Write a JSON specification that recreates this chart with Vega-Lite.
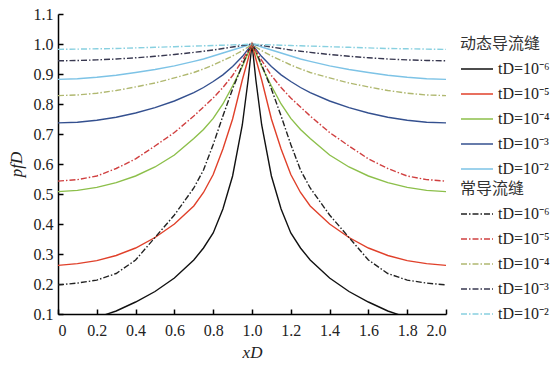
{
  "$schema": "https://vega.github.io/schema/vega-lite/v6.json",
  "width": 388,
  "height": 300,
  "autosize": {"type": "none"},
  "padding": {"left": 58, "top": 14, "right": 111, "bottom": 53},
  "background": "white",
  "config": {
    "font": "Liberation Serif",
    "view": {"stroke": null},
    "axis": {
      "grid": false,
      "domainColor": "#000",
      "domainWidth": 1.5,
      "tickColor": "#000",
      "tickWidth": 1.5,
      "tickSize": -5,
      "labelFont": "Liberation Serif",
      "labelFontSize": 16,
      "labelColor": "#222",
      "titleFont": "Liberation Serif",
      "titleFontSize": 17,
      "titleFontWeight": "normal",
      "titleFontStyle": "italic",
      "titleColor": "#222"
    },
    "legend": {
      "orient": "none",
      "titleFont": "Noto Sans CJK SC",
      "titleFontSize": 16,
      "titleFontWeight": "normal",
      "titleColor": "#333",
      "labelFont": "Liberation Serif",
      "labelFontSize": 16,
      "labelColor": "#222",
      "symbolType": "stroke",
      "symbolSize": 1024,
      "symbolStrokeWidth": 1.5,
      "rowPadding": -1.5,
      "titlePadding": 0
    }
  },
  "data": {
    "values": [
      {"x": 0, "A6": 0.05, "A5": 0.262, "A4": 0.508, "A3": 0.737, "A2": 0.882, "B6": 0.197, "B5": 0.543, "B4": 0.828, "B3": 0.944, "B2": 0.982},
      {"x": 0.1, "A6": 0.068, "A5": 0.268, "A4": 0.512, "A3": 0.739, "A2": 0.884, "B6": 0.203, "B5": 0.548, "B4": 0.83, "B3": 0.945, "B2": 0.983},
      {"x": 0.2, "A6": 0.088, "A5": 0.278, "A4": 0.522, "A3": 0.746, "A2": 0.889, "B6": 0.213, "B5": 0.56, "B4": 0.836, "B3": 0.947, "B2": 0.984},
      {"x": 0.3, "A6": 0.11, "A5": 0.295, "A4": 0.538, "A3": 0.756, "A2": 0.896, "B6": 0.235, "B5": 0.585, "B4": 0.845, "B3": 0.95, "B2": 0.985},
      {"x": 0.4, "A6": 0.14, "A5": 0.32, "A4": 0.56, "A3": 0.77, "A2": 0.905, "B6": 0.28, "B5": 0.617, "B4": 0.857, "B3": 0.954, "B2": 0.987},
      {"x": 0.5, "A6": 0.175, "A5": 0.355, "A4": 0.59, "A3": 0.788, "A2": 0.915, "B6": 0.355, "B5": 0.66, "B4": 0.87, "B3": 0.959, "B2": 0.989},
      {"x": 0.6, "A6": 0.22, "A5": 0.4, "A4": 0.63, "A3": 0.81, "A2": 0.927, "B6": 0.43, "B5": 0.705, "B4": 0.887, "B3": 0.965, "B2": 0.991},
      {"x": 0.7, "A6": 0.28, "A5": 0.46, "A4": 0.685, "A3": 0.838, "A2": 0.942, "B6": 0.52, "B5": 0.76, "B4": 0.905, "B3": 0.972, "B2": 0.993},
      {"x": 0.75, "A6": 0.32, "A5": 0.505, "A4": 0.715, "A3": 0.855, "A2": 0.95, "B6": 0.58, "B5": 0.79, "B4": 0.917, "B3": 0.976, "B2": 0.994},
      {"x": 0.8, "A6": 0.37, "A5": 0.565, "A4": 0.752, "A3": 0.875, "A2": 0.96, "B6": 0.665, "B5": 0.82, "B4": 0.93, "B3": 0.98, "B2": 0.995},
      {"x": 0.85, "A6": 0.45, "A5": 0.65, "A4": 0.8, "A3": 0.897, "A2": 0.97, "B6": 0.76, "B5": 0.855, "B4": 0.945, "B3": 0.985, "B2": 0.996},
      {"x": 0.9, "A6": 0.56, "A5": 0.75, "A4": 0.86, "A3": 0.925, "A2": 0.98, "B6": 0.85, "B5": 0.895, "B4": 0.96, "B3": 0.99, "B2": 0.997},
      {"x": 0.95, "A6": 0.73, "A5": 0.88, "A4": 0.925, "A3": 0.958, "A2": 0.99, "B6": 0.93, "B5": 0.945, "B4": 0.978, "B3": 0.995, "B2": 0.998},
      {"x": 0.98, "A6": 0.88, "A5": 0.95, "A4": 0.97, "A3": 0.983, "A2": 0.996, "B6": 0.975, "B5": 0.978, "B4": 0.99, "B3": 0.998, "B2": 0.999},
      {"x": 1.0, "A6": 1.0, "A5": 1.0, "A4": 1.0, "A3": 1.0, "A2": 1.0, "B6": 1.0, "B5": 1.0, "B4": 1.0, "B3": 1.0, "B2": 1.0},
      {"x": 1.02, "A6": 0.88, "A5": 0.95, "A4": 0.97, "A3": 0.983, "A2": 0.996, "B6": 0.975, "B5": 0.978, "B4": 0.99, "B3": 0.998, "B2": 0.999},
      {"x": 1.05, "A6": 0.73, "A5": 0.88, "A4": 0.925, "A3": 0.958, "A2": 0.99, "B6": 0.93, "B5": 0.945, "B4": 0.978, "B3": 0.995, "B2": 0.998},
      {"x": 1.1, "A6": 0.56, "A5": 0.75, "A4": 0.86, "A3": 0.925, "A2": 0.98, "B6": 0.85, "B5": 0.895, "B4": 0.96, "B3": 0.99, "B2": 0.997},
      {"x": 1.15, "A6": 0.45, "A5": 0.65, "A4": 0.8, "A3": 0.897, "A2": 0.97, "B6": 0.76, "B5": 0.855, "B4": 0.945, "B3": 0.985, "B2": 0.996},
      {"x": 1.2, "A6": 0.37, "A5": 0.565, "A4": 0.752, "A3": 0.875, "A2": 0.96, "B6": 0.665, "B5": 0.82, "B4": 0.93, "B3": 0.98, "B2": 0.995},
      {"x": 1.25, "A6": 0.32, "A5": 0.505, "A4": 0.715, "A3": 0.855, "A2": 0.95, "B6": 0.58, "B5": 0.79, "B4": 0.917, "B3": 0.976, "B2": 0.994},
      {"x": 1.3, "A6": 0.28, "A5": 0.46, "A4": 0.685, "A3": 0.838, "A2": 0.942, "B6": 0.52, "B5": 0.76, "B4": 0.905, "B3": 0.972, "B2": 0.993},
      {"x": 1.4, "A6": 0.22, "A5": 0.4, "A4": 0.63, "A3": 0.81, "A2": 0.927, "B6": 0.43, "B5": 0.705, "B4": 0.887, "B3": 0.965, "B2": 0.991},
      {"x": 1.5, "A6": 0.175, "A5": 0.355, "A4": 0.59, "A3": 0.788, "A2": 0.915, "B6": 0.355, "B5": 0.66, "B4": 0.87, "B3": 0.959, "B2": 0.989},
      {"x": 1.6, "A6": 0.14, "A5": 0.32, "A4": 0.56, "A3": 0.77, "A2": 0.905, "B6": 0.28, "B5": 0.617, "B4": 0.857, "B3": 0.954, "B2": 0.987},
      {"x": 1.7, "A6": 0.11, "A5": 0.295, "A4": 0.538, "A3": 0.756, "A2": 0.896, "B6": 0.235, "B5": 0.585, "B4": 0.845, "B3": 0.95, "B2": 0.985},
      {"x": 1.8, "A6": 0.088, "A5": 0.278, "A4": 0.522, "A3": 0.746, "A2": 0.889, "B6": 0.213, "B5": 0.56, "B4": 0.836, "B3": 0.947, "B2": 0.984},
      {"x": 1.9, "A6": 0.068, "A5": 0.268, "A4": 0.512, "A3": 0.739, "A2": 0.884, "B6": 0.203, "B5": 0.548, "B4": 0.83, "B3": 0.945, "B2": 0.983},
      {"x": 2.0, "A6": 0.05, "A5": 0.262, "A4": 0.508, "A3": 0.737, "A2": 0.882, "B6": 0.197, "B5": 0.543, "B4": 0.828, "B3": 0.944, "B2": 0.982}
    ]
  },
  "transform": [
    {"fold": ["A6", "A5", "A4", "A3", "A2", "B6", "B5", "B4", "B3", "B2"], "as": ["curve", "v"]}
  ],
  "encoding": {
    "x": {
      "field": "x",
      "type": "quantitative",
      "scale": {"domain": [0, 2], "nice": false, "zero": false},
      "axis": {
        "title": "xD",
        "values": [0, 0.2, 0.4, 0.6, 0.8, 1.0, 1.2, 1.4, 1.6, 1.8, 2.0],
        "labelExpr": "datum.value == 0 ? '0' : format(datum.value, '.1f')",
        "labelFont": "Liberation Serif",
        "labelPadding": 13,
        "titlePadding": 6
      }
    },
    "y": {
      "field": "v",
      "type": "quantitative",
      "scale": {"domain": [0.1, 1.1], "nice": false, "zero": false},
      "axis": {
        "title": "pfD",
        "values": [0.1, 0.2, 0.3, 0.4, 0.5, 0.6, 0.7, 0.8, 0.9, 1.0, 1.1],
        "format": ".1f",
        "labelFont": "Liberation Serif",
        "labelPadding": 10,
        "titlePadding": 8
      }
    }
  },
  "layer": [
    {
      "transform": [{"filter": "indexof(datum.curve, 'A') == 0"}],
      "mark": {"type": "line", "strokeWidth": 1.4, "clip": true},
      "encoding": {
        "color": {
          "field": "curve",
          "type": "nominal",
          "scale": {
            "domain": ["A6", "A5", "A4", "A3", "A2"],
            "range": ["#111111", "#e0402a", "#8cbf4a", "#34508f", "#7dc3e6"]
          },
          "legend": {
            "title": "动态导流缝",
            "legendX": 402,
            "legendY": 22,
            "labelFont": "Liberation Serif",
            "labelExpr": "'tD=10⁻' + ['','','²','³','⁴','⁵','⁶'][toNumber(slice(datum.label, 1))]"
          }
        }
      }
    },
    {
      "transform": [{"filter": "indexof(datum.curve, 'B') == 0"}],
      "mark": {"type": "line", "strokeWidth": 1.4, "strokeDash": [6, 2, 1.5, 2], "clip": true},
      "encoding": {
        "color": {
          "field": "curve",
          "type": "nominal",
          "scale": {
            "domain": ["B6", "B5", "B4", "B3", "B2"],
            "range": ["#222222", "#d04040", "#b0b870", "#383850", "#88d0e0"]
          },
          "legend": {
            "title": "常导流缝",
            "legendX": 402,
            "legendY": 167,
            "labelFont": "Liberation Serif",
            "symbolDash": [6, 2, 1.5, 2],
            "labelExpr": "'tD=10⁻' + ['','','²','³','⁴','⁵','⁶'][toNumber(slice(datum.label, 1))]"
          }
        }
      }
    }
  ],
  "resolve": {"scale": {"color": "independent"}}
}
